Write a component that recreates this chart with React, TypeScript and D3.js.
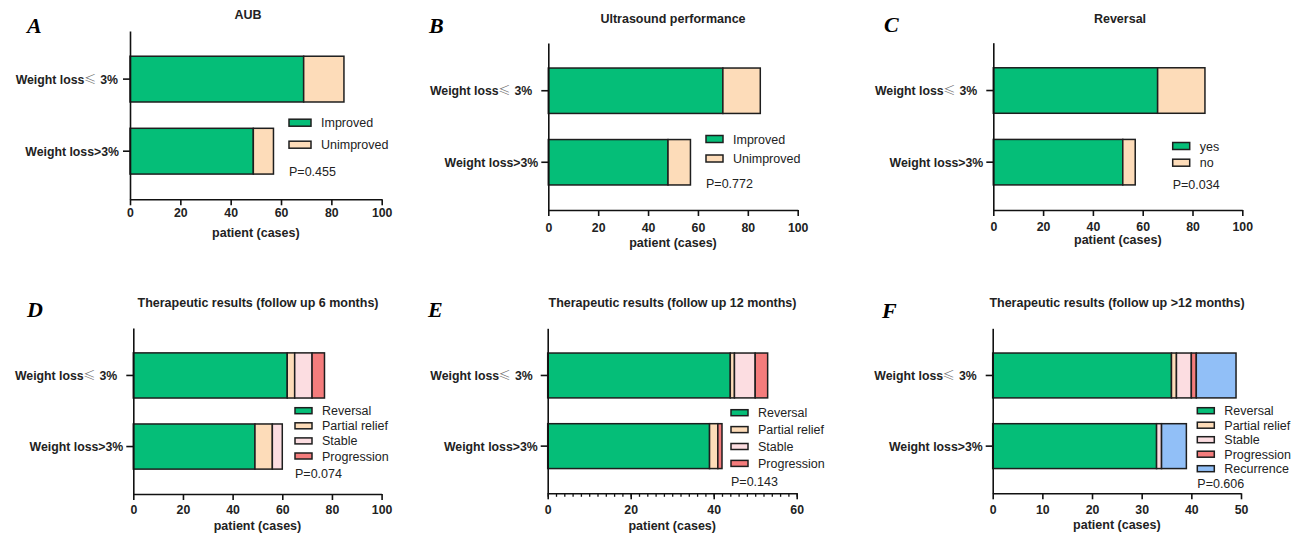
import { useEffect, useRef } from "react";
import * as d3 from "d3";

// chart data
const categories = ["Weight loss≤3%", "Weight loss>3%"];
const panelLetters = ["A", "B", "C", "D", "E", "F"];
const panelTitles = [
  "AUB",
  "Ultrasound performance",
  "Reversal",
  "Therapeutic results (follow up 6 months)",
  "Therapeutic results (follow up 12 months)",
  "Therapeutic results (follow up >12 months)",
];
const improvedGroups = ["Improved", "Unimproved"];
const reversalGroups = ["yes", "no"];
const outcomeGroups = ["Reversal", "Partial relief", "Stable", "Progression"];
const outcomeGroupsLong = ["Reversal", "Partial relief", "Stable", "Progression", "Recurrence"];

const aubValues = [[69, 16], [49, 8]];
const ultrasoundValues = [[70, 15], [48, 9]];
const reversalValues = [[66, 19], [52, 5]];
const followUp6 = [[62, 3, 7, 5], [49, 7, 4, 0]];
const followUp12 = [[44, 1, 5, 3], [39, 2, 0, 1]];
const followUpLong = [[36, 1, 3, 1, 8], [33, 0, 1, 0, 5]];

const pLabels = ["P=0.455", "P=0.772", "P=0.034", "P=0.074", "P=0.143", "P=0.606"];
const xMaxes = [100, 100, 100, 100, 60, 50];
const majorSteps = [20, 20, 20, 20, 20, 10];
const minorSteps = [0, 0, 0, 0, 2, 0];
const axisTitle = "patient (cases)";

const colors = ["#05BE78", "#FDDCB9", "#FCDDE1", "#F47C7C", "#91BFF7"];

// layout for each panel (pixels)
const layouts = [
  { x0: 130, w: 251.7, top: 31, bot: 199.3, titleX: 248, titleY: 19, letterX: 27, letterY: 33, tickGap: 18, titleGap: 38, upperPad: 5, lowerPad: 4, lx: 289, ly: 122.7, lsp: 22, sw: 22, sh: 7, py: 176 },
  { x0: 548.3, w: 249.4, top: 43, bot: 210, titleX: 673, titleY: 23, letterX: 429, letterY: 33, tickGap: 22, titleGap: 37, upperPad: 9, lowerPad: 3, lx: 706, ly: 139, lsp: 19.5, sw: 17, sh: 7, py: 187.5 },
  { x0: 993.3, w: 249, top: 42.7, bot: 210, titleX: 1120, titleY: 23, letterX: 884, letterY: 32, tickGap: 21, titleGap: 34, upperPad: 9, lowerPad: 3, lx: 1172.7, ly: 146, lsp: 16.7, sw: 17, sh: 7, py: 189 },
  { x0: 133.3, w: 248.3, top: 328, bot: 494, titleX: 258, titleY: 307, letterX: 27, letterY: 317, tickGap: 20, titleGap: 36, upperPad: 9, lowerPad: 3, lx: 295, ly: 410.7, lsp: 15.1, sw: 17, sh: 6, py: 477.5 },
  { x0: 547.7, w: 249, top: 328.3, bot: 493.3, titleX: 672.5, titleY: 307, letterX: 428, letterY: 317, tickGap: 21, titleGap: 37, upperPad: 8, lowerPad: 3, lx: 731, ly: 412.7, lsp: 16.9, sw: 17, sh: 6, py: 485.5 },
  { x0: 992.7, w: 248.3, top: 328.3, bot: 493.3, titleX: 1117, titleY: 307, letterX: 882, letterY: 318, tickGap: 21, titleGap: 36, upperPad: 9, lowerPad: 3, lx: 1197.3, ly: 410.7, lsp: 14.5, sw: 17, sh: 6, py: 488 },
];

const panelValues = [aubValues, ultrasoundValues, reversalValues, followUp6, followUp12, followUpLong];
const panelGroups = [improvedGroups, improvedGroups, reversalGroups, outcomeGroups, outcomeGroups, outcomeGroupsLong];

const FONT = "'Liberation Sans', Arial, sans-serif";

export default function App() {
  const ref = useRef<SVGSVGElement>(null);

  useEffect(() => {
    const svg = d3.select(ref.current);
    svg.selectAll("*").remove();

    layouts.forEach((L, pi) => {
      const g = svg.append("g");
      const values = panelValues[pi];
      const groups = panelGroups[pi];

      const x = d3.scaleLinear().domain([0, xMaxes[pi]]).range([L.x0, L.x0 + L.w]);
      const y = d3
        .scaleBand<string>()
        .domain(categories)
        .range([L.top, L.bot])
        .paddingInner(0.365)
        .paddingOuter(0.35);

      // letter + title
      g.append("text")
        .attr("x", L.letterX)
        .attr("y", L.letterY)
        .attr("font-family", "'Liberation Serif', 'Times New Roman', serif")
        .attr("font-style", "italic")
        .attr("font-weight", "bold")
        .attr("font-size", 22)
        .text(panelLetters[pi]);

      g.append("text")
        .attr("x", L.titleX)
        .attr("y", L.titleY)
        .attr("text-anchor", "middle")
        .attr("font-family", FONT)
        .attr("font-weight", "bold")
        .attr("font-size", 12.5)
        .attr("fill", "#222")
        .text(panelTitles[pi]);

      // stacked bars
      categories.forEach((cat, ci) => {
        const row = values[ci];
        const starts = d3.cumsum([0, ...row]);
        row.forEach((v, si) => {
          if (v === 0) return;
          g.append("rect")
            .attr("x", x(starts[si]))
            .attr("y", y(cat)!)
            .attr("width", x(starts[si] + v) - x(starts[si]))
            .attr("height", y.bandwidth())
            .attr("fill", colors[si])
            .attr("stroke", "#1e1e1e")
            .attr("stroke-width", 1.5);
        });
      });

      // y axis
      const yAxis = g
        .append("g")
        .attr("transform", `translate(${L.x0},0)`)
        .call(d3.axisLeft(y).tickSize(7).tickSizeOuter(0).tickFormat(() => ""));
      yAxis.select(".domain").attr("stroke", "#111").attr("stroke-width", 1.6);
      yAxis.selectAll(".tick line").attr("stroke", "#111").attr("stroke-width", 1.6);

      categories.forEach((cat, ci) => {
        const pad = ci === 0 ? L.upperPad : L.lowerPad;
        const t = g
          .append("text")
          .attr("x", L.x0 - 7 - pad)
          .attr("y", y(cat)! + y.bandwidth() / 2)
          .attr("dy", "0.36em")
          .attr("text-anchor", "end")
          .attr("font-family", FONT)
          .attr("font-weight", "bold")
          .attr("font-size", 12.3)
          .attr("fill", "#222");
        const parts = cat.split("≤");
        if (parts.length === 2) {
          t.append("tspan").text(parts[0]);
          t.append("tspan")
            .attr("dx", -0.5)
            .attr("font-family", "'Noto Sans CJK SC', sans-serif")
            .attr("font-weight", 300)
            .attr("fill", "#666")
            .text("≤");
          t.append("tspan").attr("dx", 4).text(parts[1]);
        } else {
          t.text(cat);
        }
      });

      // x axis
      if (minorSteps[pi]) {
        const minor = g
          .append("g")
          .attr("transform", `translate(0,${L.bot})`)
          .call(
            d3
              .axisBottom(x)
              .tickValues(d3.range(0, xMaxes[pi] + 0.001, minorSteps[pi]))
              .tickSize(3.5)
              .tickSizeOuter(0)
              .tickFormat(() => "")
          );
        minor.select(".domain").remove();
        minor.selectAll(".tick line").attr("stroke", "#111").attr("stroke-width", 1.3);
      }
      const xAxis = g
        .append("g")
        .attr("transform", `translate(0,${L.bot})`)
        .call(
          d3
            .axisBottom(x)
            .tickValues(d3.range(0, xMaxes[pi] + 0.001, majorSteps[pi]))
            .tickSize(6)
            .tickSizeOuter(0)
            .tickPadding(L.tickGap - 15)
        );
      xAxis.select(".domain").attr("stroke", "#111").attr("stroke-width", 1.6);
      xAxis.selectAll(".tick line").attr("stroke", "#111").attr("stroke-width", 1.6);
      xAxis
        .selectAll(".tick text")
        .attr("font-family", FONT)
        .attr("font-weight", "bold")
        .attr("font-size", 12.3)
        .attr("fill", "#222");

      g.append("text")
        .attr("x", L.x0 + L.w / 2)
        .attr("y", L.bot + L.titleGap)
        .attr("text-anchor", "middle")
        .attr("font-family", FONT)
        .attr("font-weight", "bold")
        .attr("font-size", 12.5)
        .attr("fill", "#222")
        .text(axisTitle);

      // legend
      groups.forEach((name, si) => {
        const cy = L.ly + si * L.lsp;
        g.append("rect")
          .attr("x", L.lx)
          .attr("y", cy - L.sh / 2)
          .attr("width", L.sw)
          .attr("height", L.sh)
          .attr("fill", colors[si])
          .attr("stroke", "#1e1e1e")
          .attr("stroke-width", 1.5);
        g.append("text")
          .attr("x", L.lx + L.sw + 10)
          .attr("y", cy)
          .attr("dy", "0.36em")
          .attr("font-family", FONT)
          .attr("font-size", 12.5)
          .attr("fill", "#222")
          .text(name);
      });

      g.append("text")
        .attr("x", L.lx)
        .attr("y", L.py)
        .attr("font-family", FONT)
        .attr("font-size", 12.5)
        .attr("fill", "#222")
        .text(pLabels[pi]);
    });
  }, []);

  return (
    <svg
      ref={ref}
      width={1302}
      height={535}
      style={{ position: "absolute", left: 0, top: 0, background: "#fff" }}
    />
  );
}
